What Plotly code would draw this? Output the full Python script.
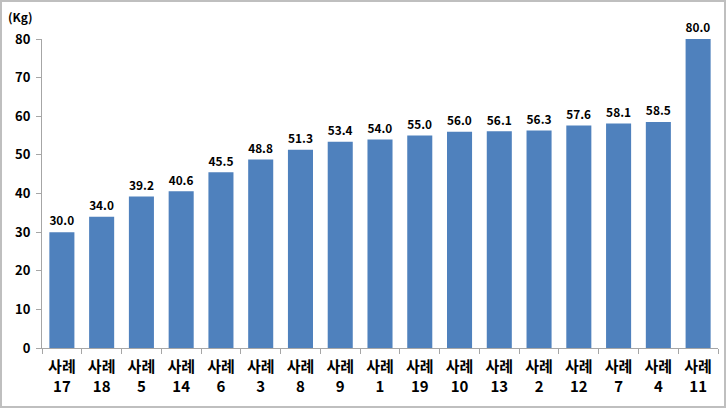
import plotly.graph_objects as go

cases = ["17", "18", "5", "14", "6", "3", "8", "9", "1", "19", "10", "13", "2", "12", "7", "4", "11"]
weights = [30.0, 34.0, 39.2, 40.6, 45.5, 48.8, 51.3, 53.4, 54.0, 55.0, 56.0, 56.1, 56.3, 57.6, 58.1, 58.5, 80.0]
categories = ["사례<br>" + c for c in cases]
y_ticks = [0, 10, 20, 30, 40, 50, 60, 70, 80]

font_family = "Noto Sans CJK KR, Noto Sans, sans-serif"

fig = go.Figure(go.Bar(
    x=categories,
    y=weights,
    marker=dict(color="#4F81BD", line=dict(width=0)),
    text=[f"{v:.1f}" for v in weights],
    textposition="outside",
    textfont=dict(family=font_family, size=13, color="#000000", weight="bold"),
    cliponaxis=False,
    width=0.63,
))

W, H = 726, 408
ml, mr, mt, mb = 42, 8, 39, 60
pw, ph = W - ml - mr, H - mt - mb

fig.update_layout(
    width=W, height=H,
    margin=dict(l=ml, r=mr, t=mt, b=mb),
    paper_bgcolor="white",
    plot_bgcolor="white",
    showlegend=False,
    font=dict(family=font_family, size=13, color="#000000"),
    xaxis=dict(
        showline=True, linecolor="#A6A6A6", linewidth=1,
        ticks="outside", tickcolor="#A6A6A6", ticklen=5,
        tickson="boundaries",
        ticklabelstandoff=5,
        tickfont=dict(family=font_family, size=15, color="#000000", weight="bold"),
        showgrid=False,
    ),
    yaxis=dict(
        range=[0, 80],
        tickvals=y_ticks,
        showline=True, linecolor="#A6A6A6", linewidth=1,
        ticks="outside", tickcolor="#A6A6A6", ticklen=5,
        ticklabelstandoff=3,
        tickfont=dict(family=font_family, size=13, color="#000000", weight="bold"),
        showgrid=False, zeroline=False,
    ),
    annotations=[dict(
        text="(Kg)", xref="paper", yref="paper",
        x=-22 / pw, y=1 + 22 / ph, xanchor="center", yanchor="middle",
        showarrow=False,
        font=dict(family=font_family, size=12, color="#000000", weight="bold"),
    )],
    shapes=[dict(
        type="rect", xref="paper", yref="paper",
        x0=-(ml - 1) / pw, x1=1 + (mr - 1) / pw,
        y0=-(mb - 1) / ph, y1=1 + (mt - 1) / ph,
        line=dict(color="#BFBFBF", width=2), fillcolor="rgba(0,0,0,0)",
    )],
)

fig.write_html("out.html")
